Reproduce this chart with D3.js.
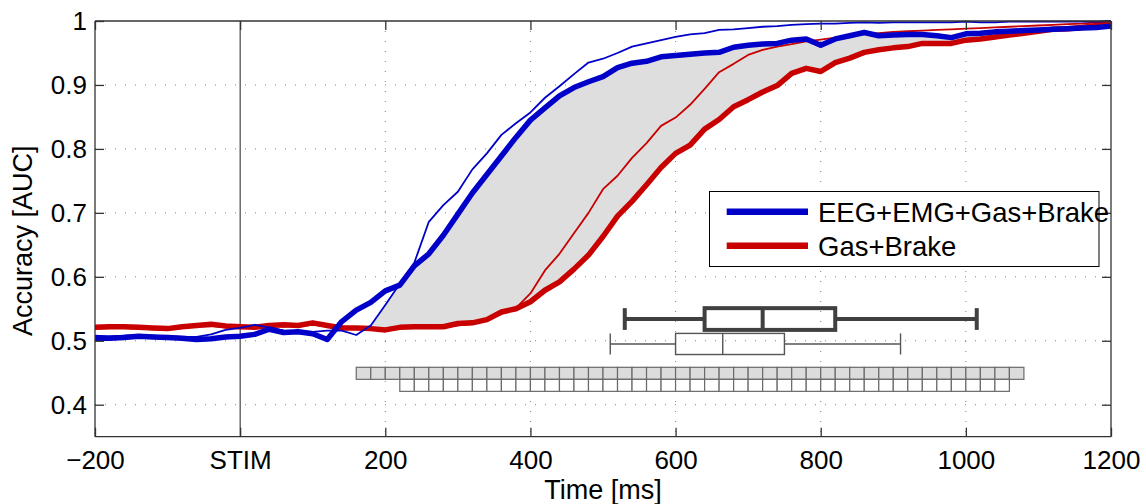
<!DOCTYPE html>
<html><head><meta charset="utf-8">
<script src="https://cdn.jsdelivr.net/npm/d3@7"></script>
<style>
body{margin:0;background:#fff}
svg{display:block}
text{font-family:"Liberation Sans",Arial,Helvetica,sans-serif;fill:#000}
</style>
</head><body>
<svg id="chart" width="1146" height="504"></svg>
<script>
// ---------------- DATA ----------------
const timeMs = [-200,-180,-160,-140,-120,-100,-80,-60,-40,-20,
  0,20,40,60,80,100,120,140,160,180,
  200,220,240,260,280,300,320,340,360,380,
  400,420,440,460,480,500,520,540,560,580,
  600,620,640,660,680,700,720,740,760,780,
  800,820,840,860,880,900,920,940,960,980,
  1000,1020,1040,1060,1080,1100,1120,1140,1160,1180,
  1200];

// EEG+EMG+Gas+Brake (thick) and its thin companion
const eegThick = [0.504,0.504,0.505,0.507,0.506,0.505,0.504,0.502,0.503,0.506,
  0.507,0.510,0.518,0.513,0.514,0.511,0.502,0.530,0.548,0.560,
  0.578,0.587,0.617,0.636,0.665,0.698,0.731,0.760,0.789,0.818,
  0.845,0.864,0.883,0.896,0.905,0.913,0.927,0.934,0.937,0.944,
  0.946,0.948,0.950,0.951,0.959,0.962,0.964,0.965,0.970,0.972,
  0.962,0.972,0.977,0.982,0.977,0.978,0.979,0.979,0.977,0.974,
  0.980,0.981,0.983,0.984,0.985,0.986,0.987,0.988,0.989,0.990,
  0.992];
const eegThin = [0.508,0.507,0.508,0.509,0.508,0.507,0.506,0.506,0.510,0.517,
  0.520,0.525,0.521,0.516,0.515,0.514,0.516,0.516,0.509,0.524,
  0.556,0.589,0.622,0.686,0.712,0.733,0.768,0.793,0.822,0.840,
  0.857,0.880,0.898,0.917,0.935,0.941,0.950,0.960,0.965,0.970,
  0.975,0.979,0.981,0.986,0.987,0.989,0.991,0.992,0.994,0.995,
  0.996,0.996,0.997,0.998,0.997,0.998,0.998,0.998,0.998,0.998,
  0.999,0.998,0.998,0.999,0.999,0.999,0.999,0.999,0.999,0.999,
  1.000];

// Gas+Brake (thick) and its thin companion
const gasThick = [0.521,0.522,0.522,0.521,0.520,0.519,0.522,0.524,0.526,0.523,
  0.522,0.521,0.524,0.525,0.524,0.528,0.524,0.520,0.520,0.519,
  0.517,0.521,0.522,0.522,0.522,0.527,0.528,0.533,0.545,0.550,
  0.561,0.579,0.592,0.612,0.634,0.663,0.695,0.718,0.744,0.771,
  0.793,0.806,0.831,0.846,0.866,0.877,0.889,0.899,0.918,0.926,
  0.921,0.935,0.942,0.951,0.955,0.958,0.960,0.965,0.965,0.965,
  0.970,0.972,0.975,0.978,0.981,0.984,0.987,0.988,0.990,0.993,
  0.996];
const gasThin = [0.519,0.520,0.520,0.519,0.518,0.520,0.521,0.522,0.523,0.521,
  0.520,0.522,0.523,0.522,0.523,0.525,0.523,0.522,0.521,0.520,
  0.518,0.520,0.520,0.521,0.521,0.524,0.526,0.532,0.542,0.551,
  0.574,0.610,0.636,0.668,0.700,0.737,0.758,0.786,0.809,0.836,
  0.849,0.869,0.894,0.920,0.933,0.947,0.955,0.960,0.964,0.968,
  0.971,0.974,0.977,0.979,0.981,0.983,0.984,0.985,0.986,0.987,
  0.988,0.989,0.990,0.991,0.992,0.993,0.994,0.995,0.996,0.998,
  1.000];

const seriesNames = ["EEG+EMG+Gas+Brake","Gas+Brake"];

// Box plots (ms): thick = first, thin = second
const boxWhiskLo = [530, 510];
const boxQ1      = [640, 600];
const boxMedian  = [720, 665];
const boxQ3      = [820, 750];
const boxWhiskHi = [1015, 910];

// significance cell rows (ms)
const sigStart = [160, 220];
const sigEnd   = [1080, 1060];
const sigBin   = 20;

// ticks
const xTickValues = [-200,0,200,400,600,800,1000,1200];
const xTickLabels = ["\u2212200","STIM","200","400","600","800","1000","1200"];
const yTickValues = [0.4,0.5,0.6,0.7,0.8,0.9,1];
const yTickLabels = ["0.4","0.5","0.6","0.7","0.8","0.9","1"];

// ---------------- DRAW ----------------
const svg = d3.select("#chart");
const L = 95, R = 1111, T = 21, B = 436.7;
const x = d3.scaleLinear().domain([-200,1200]).range([L,R]);
const y = d3.scaleLinear().domain([0.35,1]).range([B,T]);

const BLUE = "#0000c8", RED = "#c80000";

// grid
const grid = svg.append("g");
grid.selectAll("line.gx").data(xTickValues.filter(v => v>-200 && v<1200 && v!==0))
  .join("line").attr("x1",d=>x(d)).attr("x2",d=>x(d)).attr("y1",T).attr("y2",B)
  .attr("stroke","#808080").attr("stroke-width",1).attr("stroke-dasharray","1,9");
grid.selectAll("line.gy").data(yTickValues.filter(v => v<1))
  .join("line").attr("y1",d=>y(d)).attr("y2",d=>y(d)).attr("x1",L).attr("x2",R)
  .attr("stroke","#808080").attr("stroke-width",1).attr("stroke-dasharray","1,9");

// gray band between curves
const rows = timeMs.map((t,i)=>({t, bt:eegThick[i], bn:eegThin[i], rt:gasThick[i], rn:gasThin[i]}));
const band = d3.area()
  .x(d=>x(d.t))
  .y0(d=>y(Math.min(d.rt,d.rn)))
  .y1(d=>y(Math.max(Math.min(d.rt,d.rn), Math.min(d.bt,d.bn))));
svg.append("path").datum(rows).attr("d",band).attr("fill","#dedede").attr("stroke","none");

// STIM line
svg.append("line").attr("x1",x(0)).attr("x2",x(0)).attr("y1",T).attr("y2",B)
  .attr("stroke","#222").attr("stroke-width",1);

// significance cells
const cellTop = [0.4585, 0.4397];
const cellH = 0.0188;
const cellFill = ["#dcdcdc","#ffffff"];
sigStart.forEach((s,r)=>{
  const cells = d3.range(s, sigEnd[r], sigBin);
  svg.append("g").selectAll("rect").data(cells).join("rect")
    .attr("x",d=>x(d)).attr("width",d=>x(d+sigBin)-x(d))
    .attr("y",y(cellTop[r])).attr("height",y(cellTop[r]-cellH)-y(cellTop[r]))
    .attr("fill",cellFill[r]).attr("stroke","#6a6a6a").attr("stroke-width",1.2);
});

// box plots
const boxCenter = [0.534, 0.495];
const boxHalf = [0.017, 0.0165];
const boxStroke = [4, 1.4];
const boxColor = ["#404040","#555555"];
boxQ1.forEach((q1,i)=>{
  const g = svg.append("g").attr("stroke",boxColor[i]).attr("stroke-width",boxStroke[i]).attr("fill","none");
  const yc = y(boxCenter[i]), yt = y(boxCenter[i]+boxHalf[i]), yb = y(boxCenter[i]-boxHalf[i]);
  g.append("line").attr("x1",x(boxWhiskLo[i])).attr("x2",x(q1)).attr("y1",yc).attr("y2",yc);
  g.append("line").attr("x1",x(boxQ3[i])).attr("x2",x(boxWhiskHi[i])).attr("y1",yc).attr("y2",yc);
  g.append("line").attr("x1",x(boxWhiskLo[i])).attr("x2",x(boxWhiskLo[i])).attr("y1",yt).attr("y2",yb);
  g.append("line").attr("x1",x(boxWhiskHi[i])).attr("x2",x(boxWhiskHi[i])).attr("y1",yt).attr("y2",yb);
  g.append("rect").attr("x",x(q1)).attr("width",x(boxQ3[i])-x(q1)).attr("y",yt).attr("height",yb-yt);
  g.append("line").attr("x1",x(boxMedian[i])).attr("x2",x(boxMedian[i])).attr("y1",yt).attr("y2",yb);
});

// curves
const line = key => d3.line().x(d=>x(d.t)).y(d=>y(d[key]));
const curves = [
  {key:"rn", color:RED, w:1.8},
  {key:"rt", color:RED, w:5.5},
  {key:"bn", color:BLUE, w:1.8},
  {key:"bt", color:BLUE, w:5.5}
];
curves.forEach(c=>{
  svg.append("path").datum(rows).attr("d",line(c.key)).attr("fill","none")
    .attr("stroke",c.color).attr("stroke-width",c.w).attr("stroke-linejoin","round");
});

// axes (inward ticks on all four sides)
const fmtX = d => xTickLabels[xTickValues.indexOf(d)];
const fmtY = d => yTickLabels[yTickValues.indexOf(d)];
const axB = svg.append("g").attr("transform",`translate(0,${B})`)
  .call(d3.axisBottom(x).tickValues(xTickValues).tickFormat(fmtX).tickSize(-9).tickPadding(14));
const axT = svg.append("g").attr("transform",`translate(0,${T})`)
  .call(d3.axisTop(x).tickValues(xTickValues).tickFormat("").tickSize(-9));
const axL = svg.append("g").attr("transform",`translate(${L},0)`)
  .call(d3.axisLeft(y).tickValues(yTickValues).tickFormat(fmtY).tickSize(-9).tickPadding(8));
const axR = svg.append("g").attr("transform",`translate(${R},0)`)
  .call(d3.axisRight(y).tickValues(yTickValues).tickFormat("").tickSize(-9));
[axB,axT,axL,axR].forEach(a=>{
  a.selectAll("path.domain").attr("stroke","#333").attr("stroke-width",1.3);
  a.selectAll(".tick line").attr("stroke","#333").attr("stroke-width",1.3);
  a.selectAll(".tick text").attr("font-size",26).attr("fill","#000")
    .style("font-family",'"Liberation Sans",Arial,sans-serif');
});
axB.select("path.domain").attr("d",`M${L},0H${R}`);
axT.select("path.domain").attr("d",`M${L},0H${R}`);
axL.select("path.domain").attr("d",`M0,${T}V${B}`);
axR.select("path.domain").attr("d",`M0,${T}V${B}`);

// axis labels
svg.append("text").attr("x",(L+R)/2).attr("y",499).attr("text-anchor","middle")
  .attr("font-size",27).text("Time [ms]");
svg.append("text").attr("transform",`translate(32,${(T+B)/2+12}) rotate(-90)`)
  .attr("text-anchor","middle").attr("font-size",27).text("Accuracy [AUC]");

// legend
const lg = svg.append("g");
lg.append("rect").attr("x",709.5).attr("y",191.5).attr("width",389.5).attr("height",75)
  .attr("fill","#fff").attr("stroke","#000").attr("stroke-width",1);
const legColors = [BLUE, RED];
const legY = [211.7, 245.7];
seriesNames.forEach((n,i)=>{
  lg.append("line").attr("x1",726.7).attr("x2",808).attr("y1",legY[i]).attr("y2",legY[i])
    .attr("stroke",legColors[i]).attr("stroke-width",6.5);
  lg.append("text").attr("x",818).attr("y",legY[i]+10).attr("font-size",27.5).text(n);
});
</script>
</body></html>
